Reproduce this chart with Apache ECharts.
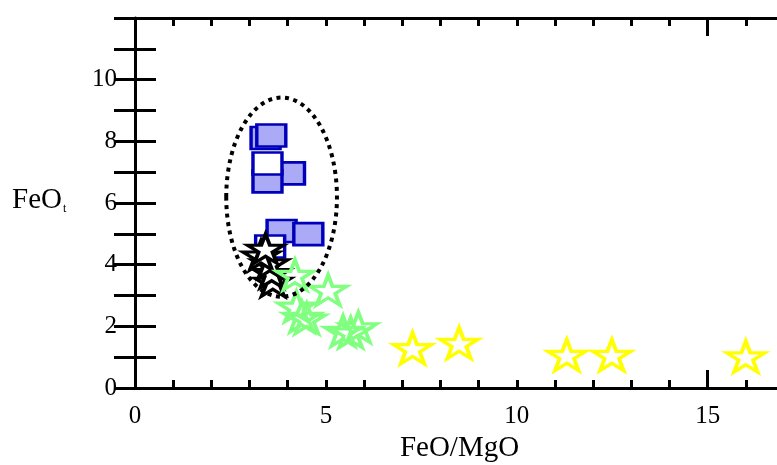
<!DOCTYPE html>
<html>
<head>
<meta charset="utf-8">
<script src="https://cdn.jsdelivr.net/npm/echarts@6/dist/echarts.min.js"></script>
<style>html,body{margin:0;padding:0;background:#fff;overflow:hidden}#c{width:777px;height:465px}</style>
</head>
<body>
<div id="c"></div>
<script>
// ---- data ----
const blueFilledX = [3.42, 3.57, 4.06, 3.47, 3.84, 4.54];
const blueFilledY = [8.11, 8.19, 6.96, 6.70, 5.09, 4.99];
const blueOpenX = [3.47, 3.54];
const blueOpenY = [7.28, 4.59];
const blackStarX = [3.61, 3.58, 3.53, 3.30, 3.42];
const blackStarY = [3.45, 3.73, 4.05, 4.30, 4.52];
const greenStarX = [4.19, 5.06, 4.23, 4.37, 4.50, 5.45, 5.65, 5.85];
const greenStarY = [3.67, 3.18, 2.64, 2.31, 2.25, 1.85, 1.80, 1.97];
const yellowStarX = [7.27, 8.49, 11.31, 12.49, 16.0];
const yellowStarY = [1.29, 1.46, 1.07, 1.07, 1.02];
const xLabelTicks = [0, 5, 10, 15];
const yLabelTicks = [0, 2, 4, 6, 8, 10];
// dotted ellipse annotation (data units)
const ellipseCenter = [3.84, 6.19];
const ellipseRadius = [1.45, 3.23];

const pairs = (xs, ys) => xs.map((x, i) => [x, ys[i]]);
const STAR = 'path://M0,-1L0.2245,-0.309L0.951,-0.309L0.363,0.118L0.588,0.809L0,0.382L-0.588,0.809L-0.363,0.118L-0.951,-0.309L-0.2245,-0.309Z';
const FONT = 'Liberation Serif';

const chart = echarts.init(document.getElementById('c'), null, {renderer: 'canvas'});
const lineStyle = {color: '#000', width: 3};
const noLine = {show: false};

function xAx(opts) {
  return Object.assign({
    type: 'value', min: 0, max: 17, position: 'bottom',
    axisLine: noLine, splitLine: {show: false}, minorSplitLine: {show: false},
    axisLabel: {show: false}, axisTick: {show: false}
  }, opts);
}
function yAx(opts) {
  return Object.assign({
    type: 'value', min: 0, max: 12, position: 'left',
    axisLine: noLine, splitLine: {show: false}, minorSplitLine: {show: false},
    axisLabel: {show: false}, axisTick: {show: false}
  }, opts);
}

const option = {
  animation: false,
  backgroundColor: '#fff',
  grid: {left: 135, right: -7, top: 18, bottom: 77, containLabel: false, outerBoundsMode: 'none', show: false},
  xAxis: [
    xAx({interval: 5, axisLine: {show: true, lineStyle},
      axisLabel: {show: true, margin: 16, fontFamily: FONT, fontSize: 25, color: '#000',
        showMaxLabel: false,
        formatter: v => xLabelTicks.includes(v) ? String(v) : ''},
      name: 'FeO/MgO', nameLocation: 'middle', nameGap: 46,
      nameTextStyle: {fontFamily: FONT, fontSize: 29, color: '#000'}}),
    xAx({interval: 1, axisTick: {show: true, inside: true, length: 8, lineStyle}}),
    xAx({interval: 15, axisTick: {show: true, inside: true, length: 18, lineStyle}}),
    xAx({position: 'top', interval: 1, axisLine: {show: true, lineStyle},
      axisTick: {show: true, inside: true, length: 8, lineStyle}}),
    xAx({position: 'top', interval: 15, axisTick: {show: true, inside: true, length: 18, lineStyle}})
  ],
  yAxis: [
    yAx({interval: 1, axisLine: {show: true, lineStyle},
      axisTick: {show: true, inside: true, length: 21, lineStyle},
      axisLabel: {show: true, margin: 18, fontFamily: FONT, fontSize: 25, color: '#000',
        formatter: v => yLabelTicks.includes(v) ? String(v) : ''}}),
    yAx({position: 'right', interval: 1, axisLine: {show: false},
      axisTick: {show: true, inside: true, length: 21, lineStyle}})
  ],
  series: [
    {type: 'scatter', name: 'blueFilled', data: pairs(blueFilledX, blueFilledY),
      symbol: 'rect', symbolSize: [29, 22],
      itemStyle: {color: '#aaaaf6', borderColor: '#0000bb', borderWidth: 3, opacity: 1}},
    {type: 'scatter', name: 'blueOpen', data: pairs(blueOpenX, blueOpenY),
      symbol: 'rect', symbolSize: [29, 22],
      itemStyle: {color: '#ffffff', borderColor: '#0000bb', borderWidth: 3, opacity: 1}},
    {type: 'scatter', name: 'blackStars', data: pairs(blackStarX, blackStarY),
      symbol: STAR, symbolSize: [36, 29],
      itemStyle: {color: '#ffffff', borderColor: '#000000', borderWidth: 3.5, opacity: 1}},
    {type: 'scatter', name: 'greenStars', data: pairs(greenStarX, greenStarY),
      symbol: STAR, symbolSize: [37, 30],
      itemStyle: {color: 'rgba(255,255,255,0)', borderColor: '#80ff80', borderWidth: 3.5, opacity: 1}},
    {type: 'scatter', name: 'yellowStars', data: pairs(yellowStarX, yellowStarY),
      symbol: STAR, symbolSize: [38, 31],
      itemStyle: {color: 'rgba(255,255,255,0)', borderColor: '#ffff00', borderWidth: 3.5, opacity: 1}}
  ]
};
chart.setOption(option);

const c = chart.convertToPixel({xAxisIndex: 0, yAxisIndex: 0}, ellipseCenter);
const e = chart.convertToPixel({xAxisIndex: 0, yAxisIndex: 0},
  [ellipseCenter[0] + ellipseRadius[0], ellipseCenter[1] + ellipseRadius[1]]);
chart.setOption({
  graphic: [
    {type: 'ellipse', silent: true, z: 10,
      shape: {cx: c[0], cy: c[1], rx: Math.abs(e[0] - c[0]), ry: Math.abs(e[1] - c[1])},
      style: {fill: null, stroke: '#000', lineWidth: 4, lineDash: [4, 4.5]}},
    {type: 'text', left: 12, top: 186, z: 10,
      style: {text: '{a|FeO}{b|t}', rich: {
        a: {fontFamily: FONT, fontSize: 29, fill: '#000'},
        b: {fontFamily: FONT, fontSize: 12, fill: '#000', verticalAlign: 'bottom', padding: [12, 0, 0, 1]}
      }}}
  ]
});
</script>
</body>
</html>
